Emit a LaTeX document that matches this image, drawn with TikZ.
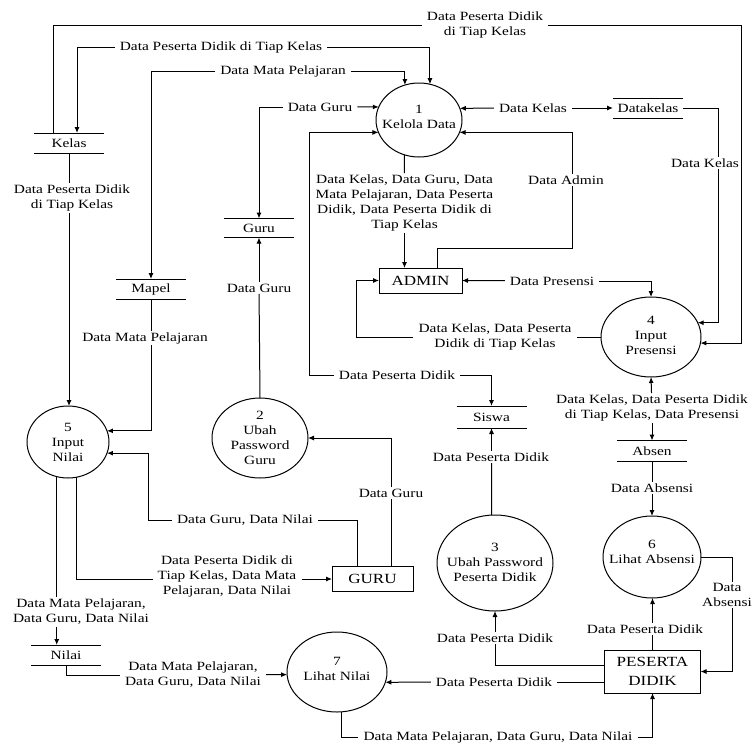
\documentclass[tikz,border=0pt]{standalone}
\usepackage{fontspec}
\setmainfont{Liberation Serif}[FakeStretch=1.22]
\usetikzlibrary{shapes.geometric,arrows.meta,calc}
\begin{document}
\begin{tikzpicture}[x=1pt,y=-1pt,
  font=\fontsize{12.6}{15}\selectfont,
  proc/.style={ellipse,draw,line width=1pt,inner sep=0pt,outer sep=0pt},
  store/.style={inner sep=0pt,outer sep=0pt,minimum width=70pt,minimum height=20pt},
  ent/.style={draw,line width=1pt,inner sep=0pt,outer sep=0pt,align=center,font=\fontsize{14}{18.5}\selectfont},
  lbl/.style={align=center,inner xsep=5pt,inner ysep=1.5pt},
  fl/.style={draw,line width=1pt},
  ar/.style={fl,-{Latex[length=6pt,width=5pt]}},
  every label/.style={align=center,inner sep=0pt}
]
\useasboundingbox[fill=white] (0,0) rectangle (754,744);

% processes
\node[proc,minimum width=86pt,minimum height=74pt,label={[yshift=3pt]center:{1\\Kelola Data}}] (kelola) at (419,120) {};
\node[proc,minimum width=96pt,minimum height=80pt,label={center:{2\\Ubah\\Password\\Guru}}] (guruP) at (260,438) {};
\node[proc,minimum width=116pt,minimum height=96pt,label={[yshift=1pt]center:{3\\Ubah Password\\Peserta Didik}}] (ubahPD) at (495,563) {};
\node[proc,minimum width=100pt,minimum height=80pt,label={[yshift=2pt]center:{4\\Input\\Presensi}}] (inPresensi) at (651,337) {};
\node[proc,minimum width=82pt,minimum height=72pt,label={center:{5\\Input\\Nilai}}] (inNilai) at (68,442) {};
\node[proc,minimum width=98pt,minimum height=82pt,label={[yshift=5pt]center:{6\\Lihat Absensi}}] (lihatAbs) at (652,557) {};
\node[proc,minimum width=100pt,minimum height=80pt,label={[yshift=3pt]center:{7\\Lihat Nilai}}] (lihatNilai) at (337,672) {};

% data stores
\node[store] (kelas) at (69,143) {Kelas};
\node[store] (mapel) at (151,289) {Mapel};
\node[store,minimum height=19pt] (guruS) at (259,228) {Guru};
\node[store,minimum height=22pt] (siswa) at (491.5,417) {Siswa};
\node[store] (datakelas) at (648,108) {Datakelas};
\node[store,minimum height=21pt] (absen) at (652,451) {Absen};
\node[store] (nilai) at (66,655) {Nilai};
\foreach \s in {kelas,mapel,guruS,siswa,datakelas,absen,nilai}
  \draw[fl] (\s.north west) -- (\s.north east) (\s.south west) -- (\s.south east);

% external entities
\node[ent,minimum width=83pt,minimum height=25pt] (admin) at (420.5,280.5) {ADMIN};
\node[ent,minimum width=81pt,minimum height=25pt] (guruE) at (372.5,579) {GURU};
\node[ent,minimum width=96pt,minimum height=43pt] (peserta) at (652.5,671.5) {PESERTA\\DIDIK};

% flow labels
\node[lbl] (L1) at (485,25) {Data Peserta Didik\\di Tiap Kelas};
\node[lbl] (L2) at (221,47) {Data Peserta Didik di Tiap Kelas};
\node[lbl] (L3) at (283,71) {Data Mata Pelajaran};
\node[lbl] (L4) at (320,107) {Data Guru};
\node[lbl] (L5) at (533,108) {Data Kelas};
\node[lbl] (L6) at (705,163) {Data Kelas};
\node[lbl] (L7) at (566,180) {Data Admin};
\node[lbl] (L8) at (404.5,203) {Data Kelas, Data Guru, Data\\Mata Pelajaran, Data Peserta\\Didik, Data Peserta Didik di\\Tiap Kelas};
\node[lbl] (L9) at (552,281) {Data Presensi};
\node[lbl] (L10) at (495,337) {Data Kelas, Data Peserta\\Didik di Tiap Kelas};
\node[lbl] (L11) at (397,375) {Data Peserta Didik};
\node[lbl] (L12) at (72,198) {Data Peserta Didik\\di Tiap Kelas};
\node[lbl] (L13) at (259,288) {Data Guru};
\node[lbl] (L14) at (145,338) {Data Mata Pelajaran};
\node[lbl] (L15) at (652,408) {Data Kelas, Data Peserta Didik\\di Tiap Kelas, Data Presensi};
\node[lbl] (L16) at (491,457) {Data Peserta Didik};
\node[lbl] (L17) at (652,488) {Data Absensi};
\node[lbl] (L18) at (391,493) {Data Guru};
\node[lbl] (L19) at (245,520) {Data Guru, Data Nilai};
\node[lbl] (L20) at (227,576) {Data Peserta Didik di\\Tiap Kelas, Data Mata\\Pelajaran, Data Nilai};
\node[lbl] (L21) at (81,612) {Data Mata Pelajaran,\\Data Guru, Data Nilai};
\node[lbl] (L22) at (727,595) {Data\\Absensi};
\node[lbl] (L23) at (645,629) {Data Peserta Didik};
\node[lbl] (L24) at (495,638) {Data Peserta Didik};
\node[lbl] (L25) at (494,682) {Data Peserta Didik};
\node[lbl] (L26) at (193,675) {Data Mata Pelajaran,\\Data Guru, Data Nilai};
\node[lbl] (L27) at (498,737) {Data Mata Pelajaran, Data Guru, Data Nilai};

% x positions of vertical runs
\coordinate (xo) at (741,0);
\coordinate (xk) at (718,0);
\coordinate (xa) at (732,0);
\coordinate (xs) at (309,0);
\coordinate (xg) at (148,0);
\coordinate (xd) at (572,248);

% Kelas -> Input Presensi
\draw[fl] ($(kelas.north)+(-16,0)$) |- (L1);
\draw[ar] (L1) -| (xo |- inPresensi.353) -- (inPresensi.353);
% Kelola Data <-> Kelas
\draw[ar] (L2) -| ($(kelas.north)+(8,0)$);
\draw[ar] (L2) -| (kelola.73);
% Kelola Data <-> Mapel
\draw[ar] (L3) -| (mapel.north);
\draw[ar] (L3) -| (kelola.112);
% Kelola Data <-> Guru
\draw[ar] (L4) -| (guruS.north);
\draw[ar] (L4) -- (kelola.162);
% Kelola Data <-> Siswa
\draw[ar] (L11) -| (xs |- kelola.197) -- (kelola.197);
\draw[ar] (L11) -| (siswa.north);
% Kelola Data <-> Datakelas
\draw[ar] (L5) -- (kelola.16);
\draw[ar] (L5) -- (datakelas.west);
% Datakelas -> Input Presensi
\draw[fl] (datakelas.east) -| (xk |- L6.north);
\draw[ar] (xk |- L6.south) |- (inPresensi.17);
% ADMIN -> Kelola Data
\draw[fl] ($(admin.north)+(16.5,0)$) |- (xd) -- (xd |- L7.south);
\draw[ar] (xd |- L7.north) |- (kelola.343);
% Kelola Data -> ADMIN
\draw[fl] (kelola.247) -- (L8);
\draw[ar] (L8) -- ($(admin.north)+(-16,0)$);
% ADMIN <-> Input Presensi
\draw[ar] (L9) -- (admin.east);
\draw[ar] (L9) -| (inPresensi.north);
% Input Presensi -> ADMIN
\draw[fl] (inPresensi.west) -- (L10);
\draw[ar] (L10) -| ($(admin.west)+(-23,0)$) -- (admin.west);
% Kelas -> Input Nilai
\draw[fl] (kelas.south) -- (kelas.south |- L12.north);
\draw[ar] (kelas.south |- L12.south) -- (kelas.south |- inNilai.north);
% Mapel -> Input Nilai
\draw[fl] (mapel.south) -- (mapel.south |- L14.north);
\draw[ar] (mapel.south |- L14.south) |- (inNilai.16);
% Ubah Password Guru -> Guru
\draw[fl] (guruP.north) -- (L13);
\draw[ar] (L13) -- (guruS.south);
% GURU -> Ubah Password Guru
\draw[fl] ($(guruE.north)+(18.5,0)$) -- (L18);
\draw[ar] (L18) |- (guruP.east);
% GURU -> Input Nilai
\draw[fl] ($(guruE.north)+(-15.5,0)$) |- (L19);
\draw[ar] (L19) -| (xg |- inNilai.344) -- (inNilai.344);
% Input Nilai -> GURU
\draw[fl] (inNilai.284) |- (L20.west |- guruE);
\draw[ar] (L20.east |- guruE) -- (guruE.west);
% Input Nilai -> Nilai
\draw[fl] (inNilai.252) -- (inNilai.252 |- L21.north);
\draw[ar] (inNilai.252 |- L21.south) -- (inNilai.252 |- nilai.north);
% Nilai -> Lihat Nilai
\draw[fl] (nilai.south) |- (L26);
\draw[ar] (L26) -- (lihatNilai.183);
% Lihat Nilai -> PESERTA DIDIK
\draw[fl] (lihatNilai.276) |- (L27);
\draw[ar] (L27) -| (peserta.south);
% PESERTA DIDIK -> Lihat Nilai
\draw[fl] ($(peserta.west)+(0,10.5)$) -- (L25);
\draw[ar] (L25) -- (lihatNilai.348);
% PESERTA DIDIK -> Ubah Password Peserta Didik
\draw[fl] ($(peserta.west)+(0,-6.5)$) -| (L24);
\draw[ar] (L24) -- (ubahPD.south);
% PESERTA DIDIK -> Lihat Absensi
\draw[fl] (peserta.north) -- (peserta.north |- L23.south);
\draw[ar] (peserta.north |- L23.north) -- (peserta.north |- lihatAbs.south);
% Lihat Absensi -> PESERTA DIDIK
\draw[fl] (lihatAbs.east) -| (xa |- L22.north);
\draw[ar] (xa |- L22.south) |- (peserta.east);
% Absen -> Lihat Absensi
\draw[fl] (absen.south) -- (L17);
\draw[ar] (L17) -- (lihatAbs.north);
% Input Presensi <-> Absen
\draw[ar] (L15) -- (inPresensi.south);
\draw[ar] (L15) -- (absen.north);
% Ubah Password Peserta Didik -> Siswa
\draw[fl] (ubahPD.94) -- (siswa.south |- L16.south);
\draw[ar] (siswa.south |- L16.north) -- (siswa.south);
\end{tikzpicture}
\end{document}
